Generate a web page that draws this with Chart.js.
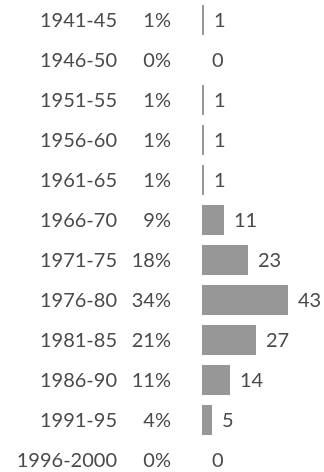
<!DOCTYPE html>
<html>
<head>
<meta charset="utf-8">
<script src="https://cdn.jsdelivr.net/npm/chart.js@4"></script>
<style>
  html, body { margin: 0; padding: 0; background: #fff; overflow: hidden; }
  #wrap { width: 324px; height: 480px; }
</style>
</head>
<body>
<div id="wrap"><canvas id="chart" width="324" height="480"></canvas></div>
<script>
const periods = ['1941-45', '1946-50', '1951-55', '1956-60', '1961-65', '1966-70',
  '1971-75', '1976-80', '1981-85', '1986-90', '1991-95', '1996-2000'];
const shares = [1, 0, 1, 1, 1, 9, 18, 34, 21, 11, 4, 0];
const counts = [1, 0, 1, 1, 1, 11, 23, 43, 27, 14, 5, 0];

const FONT = '20px Lato, "Noto Sans", sans-serif';
const TEXT = '#4a4a4a';

// period + share columns on the left, count next to each bar
const rowText = {
  id: 'rowText',
  afterDatasetsDraw(chart) {
    const { ctx, scales: { x, y } } = chart;
    ctx.save();
    ctx.font = FONT;
    ctx.fillStyle = TEXT;
    ctx.textBaseline = 'middle';
    periods.forEach((p, i) => {
      const yy = y.getPixelForValue(i) + 1;
      ctx.textAlign = 'right';
      ctx.fillText(p, 117, yy);
      ctx.fillText(shares[i] + '%', 171, yy);
      ctx.textAlign = 'left';
      ctx.fillText(String(counts[i]), x.getPixelForValue(counts[i]) + 10, yy);
    });
    ctx.restore();
  }
};

new Chart(document.getElementById('chart'), {
  type: 'bar',
  data: {
    labels: periods,
    datasets: [{
      data: counts,
      backgroundColor: '#979797',
      barPercentage: 0.75,
      categoryPercentage: 1
    }]
  },
  options: {
    indexAxis: 'y',
    responsive: false,
    animation: false,
    layout: { padding: { left: 202, right: 0, top: 0, bottom: 0 } },
    scales: {
      x: { display: false, min: 0, max: 61 },
      y: { display: false }
    },
    plugins: { legend: { display: false }, tooltip: { enabled: false } }
  },
  plugins: [rowText]
});
</script>
</body>
</html>
